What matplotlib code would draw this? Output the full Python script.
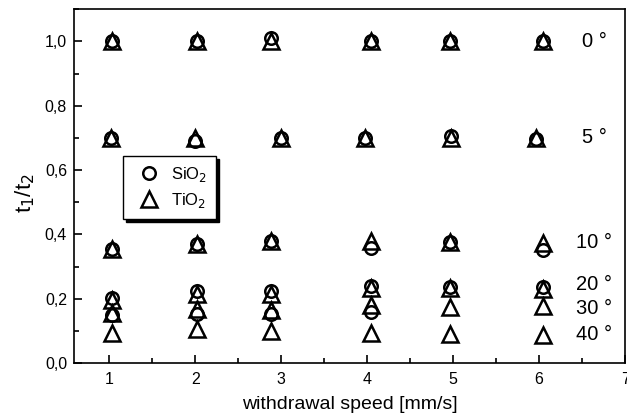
import matplotlib
matplotlib.use("Agg")
import matplotlib.pyplot as plt
from matplotlib.ticker import MultipleLocator, FuncFormatter

plt.rcParams['font.family'] = ['Liberation Sans', 'DejaVu Sans']

# withdrawal speeds as plotted (points are slightly offset from the integers)
speed = [1.03, 2.02, 2.88, 4.04, 4.96, 6.05]
speed_5 = [1.02, 2.00, 3.00, 3.97, 4.97, 5.96]

# SiO2 (circles)
sio2_0 = [1.00, 1.00, 1.01, 1.00, 1.00, 1.00]
sio2_5 = [0.700, 0.690, 0.700, 0.700, 0.705, 0.695]
sio2_10 = [0.355, 0.370, 0.380, 0.358, 0.375, 0.352]
sio2_20 = [0.204, 0.224, 0.224, 0.240, 0.238, 0.237]
sio2_30 = [0.151, 0.153, 0.152, 0.159]

# TiO2 (triangles)
tio2_0 = [1.00, 1.00, 1.00, 1.00, 1.00, 1.00]
tio2_5 = [0.700, 0.700, 0.700, 0.700, 0.700, 0.700]
tio2_10 = [0.356, 0.369, 0.379, 0.381, 0.376, 0.372]
tio2_20 = [0.195, 0.215, 0.215, 0.235, 0.233, 0.232]
tio2_30 = [0.155, 0.167, 0.165, 0.181, 0.173, 0.177]
tio2_40 = [0.093, 0.107, 0.099, 0.095, 0.090, 0.087]

angle_labels = ['0 °', '5 °', '10 °', '20 °', '30 °', '40 °']
angle_label_y = [1.0, 0.70, 0.375, 0.245, 0.17, 0.09]

fig = plt.figure(figsize=(6.27, 4.16), dpi=100)
ax = fig.add_axes([0.118, 0.127, 0.879, 0.851])

circ = dict(marker='o', ms=9, mfc='none', mec='black', mew=1.8, ls='none')
tri = dict(marker='^', ms=11, mfc='none', mec='black', mew=1.8, ls='none')

ax.plot(speed, sio2_0, label='SiO$_2$', **circ)
ax.plot(speed_5, sio2_5, **circ)
ax.plot(speed, sio2_10, **circ)
ax.plot(speed, sio2_20, **circ)
ax.plot(speed[:4], sio2_30, **circ)

ax.plot(speed, tio2_0, label='TiO$_2$', **tri)
ax.plot(speed_5, tio2_5, **tri)
ax.plot(speed, tio2_10, **tri)
ax.plot(speed, tio2_20, **tri)
ax.plot(speed, tio2_30, **tri)
ax.plot(speed, tio2_40, **tri)

for lab, yy in zip(angle_labels, angle_label_y):
    xx = 6.5 if len(lab) < 4 else 6.43
    ax.text(xx, yy, lab, fontsize=14.5, va='center', ha='left')

ax.xaxis.set_minor_locator(MultipleLocator(0.5))
ax.yaxis.set_major_locator(MultipleLocator(0.2))
ax.yaxis.set_minor_locator(MultipleLocator(0.1))
ax.yaxis.set_major_formatter(FuncFormatter(lambda v, p: f'{v:.1f}'.replace('.', ',')))
ax.set_xticks([1, 2, 3, 4, 5, 6, 7])
ax.set_xlim(0.59, 7.0)
ax.set_ylim(0, 1.1)
ax.tick_params(which='both', direction='in', top=False, right=False, labelsize=11.5)
ax.tick_params(which='major', length=6, width=1.2, pad=6)
ax.tick_params(axis='y', which='major', pad=5)
ax.tick_params(which='minor', length=3.5, width=1.2)
for s in ax.spines.values():
    s.set_linewidth(1.2)

ax.set_xlabel('withdrawal speed [mm/s]', fontsize=14, labelpad=7)
ax.set_ylabel('t$_1$/t$_2$', fontsize=16)
ax.yaxis.set_label_coords(-0.068, 0.48)

leg = ax.legend(loc='upper left', bbox_to_anchor=(0.089, 0.585), fontsize=12,
                frameon=True, fancybox=False, edgecolor='black', framealpha=1,
                shadow={'color': 'black', 'alpha': 1},
                handlelength=2.0, handletextpad=0.3, borderpad=0.55, labelspacing=0.4,
                borderaxespad=0)
leg.get_frame().set_linewidth(1.0)

fig.savefig('out.png', dpi=100)
